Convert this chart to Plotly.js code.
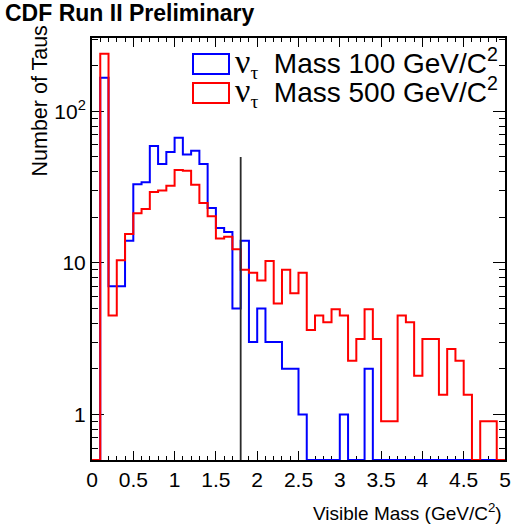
<!DOCTYPE html>
<html>
<head>
<meta charset="utf-8">
<script src="https://cdn.plot.ly/plotly-3.0.1.min.js"></script>
<style>
  html, body { margin: 0; padding: 0; background: #fff; }
  #plot { width: 511px; height: 531px; }
</style>
</head>
<body>
<div id="plot"></div>
<script>
// Low edges of the 0.1-wide visible-mass bins (GeV/c^2)
const binLow = [0.0, 0.1, 0.2, 0.3, 0.4, 0.5, 0.6, 0.7, 0.8, 0.9,
                1.0, 1.1, 1.2, 1.3, 1.4, 1.5, 1.6, 1.7, 1.8, 1.9,
                2.0, 2.1, 2.2, 2.3, 2.4, 2.5, 2.6, 2.7, 2.8, 2.9,
                3.0, 3.1, 3.2, 3.3, 3.4, 3.5, 3.6, 3.7, 3.8, 3.9,
                4.0, 4.1, 4.2, 4.3, 4.4, 4.5, 4.6, 4.7, 4.8, 4.9];
const binHigh = 5.0;

// Number of taus per bin, nu_tau mass 100 GeV/c^2
const taus100 = [0, 167, 7, 7, 14, 33, 34, 59, 45, 54,
                 67, 52, 55, 45, 23, 17, 16, 5, 14, 3,
                 5, 3, 3, 2, 2, 1, 0, 0, 0, 0,
                 1, 0, 0, 2, 0, 0, 0, 0, 0, 0,
                 0, 0, 0, 0, 0, 0, 0, 0, 0, 0];

// Number of taus per bin, nu_tau mass 500 GeV/c^2
const taus500 = [0, 240, 4.5, 10.4, 15.5, 21.3, 22.7, 29.4, 30.1, 32.3,
                 41, 40.6, 32.8, 24.8, 20.3, 14.5, 14.9, 12.3, 9.0, 8.6,
                 7.65, 10.3, 5.4, 9.0, 6.3, 8.6, 3.6, 4.5, 4.05, 4.95,
                 4.5, 2.26, 3.15, 4.95, 3.15, 0.9, 0.9, 4.5, 4.05, 1.8,
                 3.15, 3.15, 1.35, 2.7, 2.26, 1.35, 0, 0.9, 0.9, 0];

const seriesNames = ['Mass 100 GeV/C<sup>2</sup>', 'Mass 500 GeV/C<sup>2</sup>'];
const seriesColors = ['#0000ff', '#ff0000'];

// Vertical marker line
const cutX = 1.8;
const cutTop = 50;

// Axis ranges
const yMin = 0.5, yMax = 305;
const xMin = 0, xMax = 5;

// Step outline of a histogram: empty bins sit on the floor of the log axis
function stepTrace(values, color) {
  const xs = binLow.concat([binHigh]);
  const ys = values.map(v => (v > 0 ? v : yMin));
  ys.push(ys[ys.length - 1]);
  return {
    type: 'scatter', mode: 'lines',
    x: xs, y: ys,
    line: { shape: 'hv', color: color, width: 2 },
    hoverinfo: 'skip', showlegend: false
  };
}

const traces = [
  stepTrace(taus100, seriesColors[0]),
  stepTrace(taus500, seriesColors[1]),
  {
    type: 'scatter', mode: 'lines',
    x: [cutX, cutX], y: [yMin, cutTop],
    line: { color: '#2a2a2a', width: 1.8 },
    hoverinfo: 'skip', showlegend: false
  }
];

// Minor ticks for the log axis
const yMinor = [0.6, 0.7, 0.8, 0.9, 2, 3, 4, 5, 6, 7, 8, 9,
                20, 30, 40, 50, 60, 70, 80, 90, 200, 300];

const FONT = 'Liberation Sans, Arial, Helvetica, sans-serif';
const SERIF = 'Liberation Serif, Times New Roman, serif';
const nu = '<span style="font-family:' + SERIF + ';font-size:34px">ν</span>' +
           '<sub><span style="font-family:' + SERIF + '">τ</span></sub>\u00a0 ';

// Plot area in pixels (for placing legend boxes)
const W = 511, H = 531;
const M = { l: 92, r: 6, t: 38, b: 71 };
const pw = W - M.l - M.r, ph = H - M.t - M.b;
const px = x => (x - M.l) / pw;
const py = y => (H - M.b - y) / ph;

const legendRows = [64, 93];
const shapes = legendRows.map((cy, i) => ({
  type: 'rect', xref: 'paper', yref: 'paper',
  x0: px(193), x1: px(229), y0: py(cy + 10), y1: py(cy - 10),
  line: { color: seriesColors[i], width: 2 }, fillcolor: 'rgba(0,0,0,0)'
}));

const annotations = legendRows.map((cy, i) => ({
  xref: 'paper', yref: 'paper', x: px(233), y: py(cy - 1),
  xanchor: 'left', yanchor: 'middle', showarrow: false,
  text: nu + seriesNames[i],
  font: { family: FONT, size: 28, color: '#000' }
}));

annotations.push({
  xref: 'paper', yref: 'paper', x: px(504), y: py(512),
  xanchor: 'right', yanchor: 'middle', showarrow: false,
  text: 'Visible Mass (GeV/C<sup>2</sup>)',
  font: { family: FONT, size: 19, color: '#000' }
});
annotations.push({
  xref: 'paper', yref: 'paper', x: px(39), y: py(24),
  xanchor: 'center', yanchor: 'top', showarrow: false, textangle: -90,
  text: 'Number of Taus',
  font: { family: FONT, size: 21.5, color: '#000' }
});

const layout = {
  width: W, height: H,
  margin: M,
  paper_bgcolor: '#fff', plot_bgcolor: '#fff',
  showlegend: false,
  title: {
    text: 'CDF Run II Preliminary',
    font: { family: FONT, size: 23, weight: 'bold', color: '#000' },
    x: 5 / W, xref: 'container', xanchor: 'left',
    y: 1 - 13 / H, yref: 'container', yanchor: 'middle'
  },
  xaxis: {
    range: [xMin, xMax],
    tickmode: 'linear', tick0: 0, dtick: 0.5,
    ticks: 'inside', ticklen: 9, tickwidth: 1, tickcolor: '#000',
    minor: { dtick: 0.1, ticks: 'inside', ticklen: 4, tickwidth: 1, tickcolor: '#000' },
    showline: true, linecolor: '#000', linewidth: 2, mirror: 'allticks',
    showgrid: false, zeroline: false,
    tickfont: { family: FONT, size: 21, color: '#000' },
    layer: 'below traces'
  },
  yaxis: {
    type: 'log',
    range: [Math.log10(yMin), Math.log10(yMax)],
    tickmode: 'array', tickvals: [1, 10, 100], ticktext: ['1', '10', '10<sup>2</sup>'],
    ticks: 'inside', ticklen: 12, tickwidth: 1, tickcolor: '#000',
    minor: { tickmode: 'array', tickvals: yMinor, ticks: 'inside', ticklen: 6, tickwidth: 1, tickcolor: '#000' },
    showline: true, linecolor: '#000', linewidth: 2, mirror: 'allticks',
    showgrid: false, zeroline: false,
    tickfont: { family: FONT, size: 21, color: '#000' },
    layer: 'below traces'
  },
  shapes: shapes,
  annotations: annotations
};

Plotly.newPlot('plot', traces, layout, { staticPlot: true, displayModeBar: false });
</script>
</body>
</html>
